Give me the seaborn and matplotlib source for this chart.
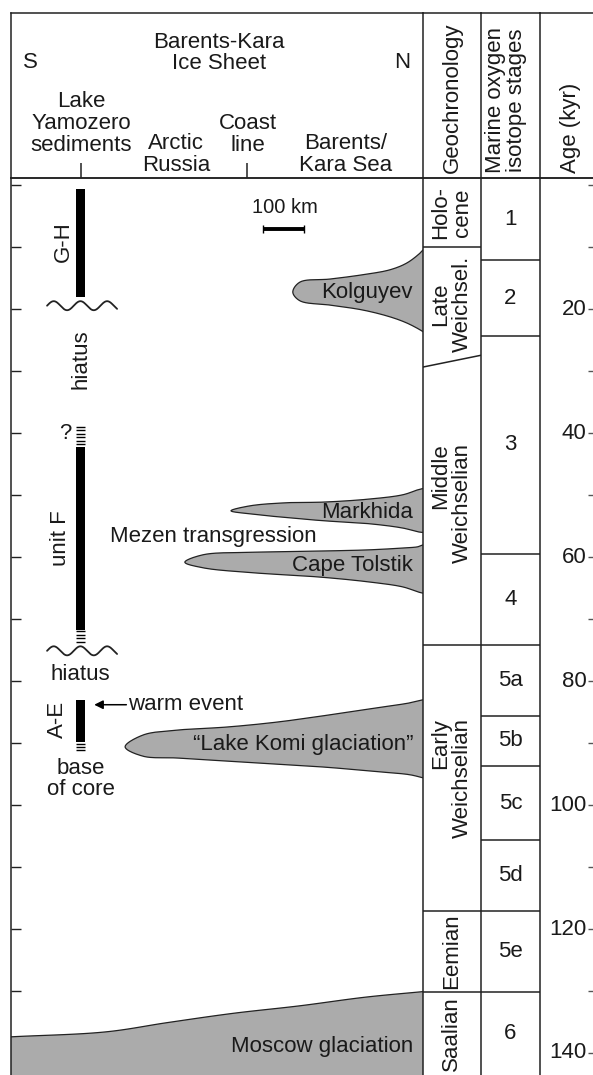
import numpy as np
import matplotlib
matplotlib.use("Agg")
import matplotlib.pyplot as plt
import seaborn as sns

# ------------------------------------------------------------------ data
# Age axis (kyr before present)
age_ticks = list(range(0, 150, 10))
age_tick_labels = [20, 40, 60, 80, 100, 120, 140]

# Marine oxygen isotope stages (boundaries in kyr, young -> old)
mis_boundaries = [12.1, 24.3, 59.4, 74.2, 85.6, 93.7, 105.7, 117.1, 130.2]
mis_names = ["1", "2", "3", "4", "5a", "5b", "5c", "5d", "5e", "6"]

# Geochronology (the Late/Middle Weichselian boundary is oblique)
geo_names = ["Holo-\ncene", "Late\nWeichsel.", "Middle\nWeichselian",
             "Early\nWeichselian", "Eemian", "Saalian"]
holocene_base = 10.0
late_middle_boundary = [29.3, 27.4]       # west side, east side of column
geo_lower_boundaries = [74.2, 117.1, 130.2]

# Ice-sheet advances along the S-N transect (km from the southern end, kyr)
kolguyev_tip = [684, 17.2]
kolguyev_km = [701, 774, 854, 920, 961, 993, 1000]
kolguyev_top = [15.6, 15.1, 14.4, 13.6, 12.5, 10.9, 10.4]
kolguyev_base = [18.6, 19.3, 20.1, 21.2, 22.2, 23.3, 23.6]

markhida_tip = [534, 52.5]
markhida_km = [580, 670, 757, 871, 952, 988, 1000]
markhida_top = [51.7, 51.2, 51.1, 50.6, 49.9, 49.1, 48.9]
markhida_base = [53.0, 53.6, 54.1, 54.6, 55.3, 55.9, 56.0]

tolstik_tip = [422, 60.8]
tolstik_km = [466, 587, 750, 871, 952, 988, 1000]
tolstik_top = [59.6, 59.2, 59.0, 58.8, 58.5, 58.3, 58.0]
tolstik_base = [61.7, 62.5, 63.2, 64.0, 64.8, 65.6, 65.8]

komi_tip = [277, 90.6]
komi_km = [320, 403, 524, 646, 767, 888, 968, 1000]
komi_top = [88.7, 87.9, 87.4, 86.6, 85.5, 84.3, 83.5, 83.0]
komi_base = [92.1, 92.4, 92.9, 93.4, 93.9, 94.6, 95.1, 95.6]

moscow_km = [0, 230, 380, 540, 700, 860, 1000]
moscow_top = [137.4, 136.6, 135.1, 133.6, 132.4, 131.0, 130.1]

lobe_names = ["Kolguyev", "Markhida", "Cape Tolstik", "\u201cLake Komi glaciation\u201d"]
lobe_label_ages = [17.35, 52.7, 61.3, 90.3]

# Lake Yamozero core
lake_km = 169
coast_km = 573
core_units = ["G-H", "unit F", "A-E"]
core_top = [0.6, 42.2, 83.0]
core_base = [18.0, 71.7, 89.8]
uncertain_top = [38.7, 71.7, 89.8]
uncertain_base = [42.2, 74.0, 91.4]
hiatus_ages = [19.4, 75.1]

scale_bar_km = [612, 712]
scale_bar_age = 7.0

# ------------------------------------------------------------------ style
sns.set_theme(style="white")
plt.rcParams["font.family"] = ["Liberation Sans", "DejaVu Sans"]
FS = 16
TXT = "#1a1a1a"
LINE = "#222222"
GRAY = "#ababab"
SPLW = 1.1

W, H = 593, 1075
fig = plt.figure(figsize=(W / 100, H / 100), dpi=100)
fig.patch.set_facecolor("white")


def px_axes(x0, y0, x1, y1):
    return fig.add_axes([x0 / W, 1 - y1 / H, (x1 - x0) / W, (y1 - y0) / H])


def style_spines(ax, show):
    for side, sp in ax.spines.items():
        sp.set_visible(side in show)
        sp.set_linewidth(SPLW)
        sp.set_color(LINE)
    ax.set_xticks([])
    ax.set_yticks([])
    ax.set_facecolor("none")


AGE_TOP, AGE_BOT = -1.21, 143.56
HEAD_TOP, BODY_TOP = 13, 178
cols = [(11, 423), (423, 481), (481, 540), (540, 596)]

heads, bodies = [], []
for x0, x1 in cols:
    h = px_axes(x0, HEAD_TOP, x1, BODY_TOP)
    style_spines(h, ("left", "top", "bottom"))
    h.set_ylim(0, 1)
    heads.append(h)
    b = px_axes(x0, BODY_TOP, x1, H)
    style_spines(b, ("left", "top"))
    b.set_ylim(AGE_BOT, AGE_TOP)
    bodies.append(b)

ax, ax_geo, ax_mis, ax_age = bodies
hd_main, hd_geo, hd_mis, hd_age = heads
ax.set_xlim(0, 1000)
hd_main.set_xlim(0, 1000)
for b in (ax_geo, ax_mis, ax_age):
    b.set_xlim(0, 1)

# left ticks of the transect panel
ax.set_yticks(age_ticks)
ax.tick_params(axis="y", left=True, direction="in", length=7.5, width=1.0,
               color=LINE, labelleft=False)

# ------------------------------------------------------------------ helpers
def catmull_rom(P, n=20):
    P = np.asarray(P, float)
    P = np.vstack([2 * P[0] - P[1], P, 2 * P[-1] - P[-2]])
    out = []
    for i in range(1, len(P) - 2):
        p0, p1, p2, p3 = P[i - 1], P[i], P[i + 1], P[i + 2]
        t0 = 0.0
        t1 = t0 + max(np.linalg.norm(p1 - p0), 1e-6) ** 0.5
        t2 = t1 + max(np.linalg.norm(p2 - p1), 1e-6) ** 0.5
        t3 = t2 + max(np.linalg.norm(p3 - p2), 1e-6) ** 0.5
        t = np.linspace(t1, t2, n, endpoint=False)[:, None]
        A1 = (t1 - t) / (t1 - t0) * p0 + (t - t0) / (t1 - t0) * p1
        A2 = (t2 - t) / (t2 - t1) * p1 + (t - t1) / (t2 - t1) * p2
        A3 = (t3 - t) / (t3 - t2) * p2 + (t - t2) / (t3 - t2) * p3
        B1 = (t2 - t) / (t2 - t0) * A1 + (t - t0) / (t2 - t0) * A2
        B2 = (t3 - t) / (t3 - t1) * A2 + (t - t1) / (t3 - t1) * A3
        out.append((t2 - t) / (t2 - t1) * B1 + (t - t1) / (t2 - t1) * B2)
    out.append(P[-2][None])
    return np.vstack(out)


def smooth(axis, xs, ys):
    pts = axis.transData.transform(np.column_stack([xs, ys]))
    return axis.transData.inverted().transform(catmull_rom(pts))


def outline(axis, xy, lw=0.9):
    sns.lineplot(x=xy[:, 0], y=xy[:, 1], sort=False, estimator=None,
                 color=LINE, lw=lw, ax=axis, zorder=3)


# ------------------------------------------------------------------ ice lobes
lobes = [
    (kolguyev_tip, kolguyev_km, kolguyev_top, kolguyev_base),
    (markhida_tip, markhida_km, markhida_top, markhida_base),
    (tolstik_tip, tolstik_km, tolstik_top, tolstik_base),
    (komi_tip, komi_km, komi_top, komi_base),
]
for (tip, km, top, base), name, lab_age in zip(lobes, lobe_names, lobe_label_ages):
    xs = km[::-1] + [tip[0]] + km
    ys = top[::-1] + [tip[1]] + base
    xy = smooth(ax, xs, ys)
    ax.fill(xy[:, 0], xy[:, 1], color=GRAY, lw=0, zorder=2)
    outline(ax, xy)
    ax.text(976, lab_age, name, ha="right", va="center", fontsize=FS,
            color=TXT, zorder=4)

# Moscow glaciation (Saalian)
mxy = smooth(ax, moscow_km, moscow_top)
poly = np.vstack([mxy, [[1000, 160], [0, 160]]])
ax.fill(poly[:, 0], poly[:, 1], color=GRAY, lw=0, zorder=2)
outline(ax, mxy)
ax.text(976, 139.0, "Moscow glaciation", ha="right", va="center",
        fontsize=FS, color=TXT, zorder=4)

ax.text(240, 56.6, "Mezen transgression", ha="left", va="center",
        fontsize=FS, color=TXT)

# scale bar
ax.plot(scale_bar_km, [scale_bar_age] * 2, color="black", lw=2.8,
        solid_capstyle="butt")
ax.vlines(scale_bar_km, scale_bar_age - 0.65, scale_bar_age + 0.65,
          color="black", lw=1.0)
ax.text(np.mean(scale_bar_km) + 2, 3.5, "100 km", ha="center",
        va="center", fontsize=14.5, color=TXT)

# ------------------------------------------------------------------ Lake Yamozero core
bar_w = 22
ax.bar(lake_km, np.subtract(core_base, core_top), bottom=core_top,
       width=bar_w, color="black", lw=0, zorder=3)
for a0, a1 in zip(uncertain_top, uncertain_base):
    ys = np.arange(a0 + 0.28, a1, 0.55)
    ax.hlines(ys, lake_km - bar_w / 2, lake_km + bar_w / 2, color="black",
              lw=1.0, zorder=3)
for a in hiatus_ages:
    wx = np.linspace(lake_km - 81.5, lake_km + 88.5, 200)
    wy = a - 0.73 * np.sin(2 * np.pi * (wx - (lake_km - 81.5)) / 64.8)
    outline(ax, np.column_stack([wx, wy]), lw=1.3)

unit_label_x = [126, 121, 113]
unit_label_age = [9.0, 56.9, 86.1]
for name, ux, ua in zip(core_units, unit_label_x, unit_label_age):
    ax.text(ux, ua, name, rotation=90, ha="center", va="center",
            fontsize=FS, color=TXT)
ax.text(lake_km, 28.0, "hiatus", rotation=90, ha="center", va="center",
        fontsize=FS, color=TXT)
ax.text(lake_km, 79.0, "hiatus", ha="center", va="center", fontsize=FS,
        color=TXT)
ax.text(131, 40.0, "?", ha="center", va="center", fontsize=FS, color=TXT)
ax.text(lake_km, 95.8, "base\nof core", ha="center", va="center",
        fontsize=FS, color=TXT, linespacing=1.0)
ax.annotate("", xy=(202, 83.8), xytext=(280, 83.8),
            arrowprops=dict(arrowstyle="-|>", color="black", lw=1.1,
                            mutation_scale=13, shrinkA=0, shrinkB=0))
ax.text(284, 83.8, "warm event", ha="left", va="center", fontsize=FS,
        color=TXT)

# ------------------------------------------------------------------ geochronology column
ax_geo.hlines([holocene_base], 0, 1, color=LINE, lw=SPLW)
ax_geo.plot([0, 1], late_middle_boundary, color=LINE, lw=SPLW)
ax_geo.hlines(geo_lower_boundaries, 0, 1, color=LINE, lw=SPLW)
geo_edges = [AGE_TOP, holocene_base, np.mean(late_middle_boundary)] + \
    geo_lower_boundaries + [AGE_BOT]
for i, name in enumerate(geo_names):
    mid = 0.5 * (geo_edges[i] + geo_edges[i + 1])
    ma = "right" if "Weichselian" in name else "center"
    ax_geo.text(0.49, mid, name, rotation=90, ha="center", va="center",
                fontsize=FS, color=TXT, multialignment=ma, linespacing=1.05,
                transform=ax_geo.get_yaxis_transform())

# ------------------------------------------------------------------ MIS column
ax_mis.hlines(mis_boundaries, 0, 1, color=LINE, lw=SPLW)
mis_edges = [AGE_TOP] + mis_boundaries + [AGE_BOT]
for i, name in enumerate(mis_names):
    mid = 0.5 * (mis_edges[i] + mis_edges[i + 1])
    ax_mis.text(0.5, mid, name, ha="center", va="center", fontsize=FS,
                color=TXT, transform=ax_mis.get_yaxis_transform())

# ------------------------------------------------------------------ age column
ax_age.yaxis.tick_right()
ax_age.set_yticks(age_ticks)
ax_age.tick_params(axis="y", right=True, left=False, direction="in",
                   length=6, width=1.0, color="#555555", labelright=False)
for a in age_tick_labels:
    ax_age.text(0.83, a, str(a), ha="right", va="center", fontsize=FS,
                color=TXT, transform=ax_age.get_yaxis_transform())

# ------------------------------------------------------------------ header
hd_main.text(505, 0.758, "Barents-Kara\nIce Sheet", ha="center", va="center",
             fontsize=FS, color=TXT, linespacing=1.0)
hd_main.text(48, 0.697, "S", ha="center", va="center", fontsize=FS, color=TXT)
hd_main.text(949, 0.697, "N", ha="center", va="center", fontsize=FS, color=TXT)
hd_main.text(171, 0.133, "Lake\nYamozero\nsediments", ha="center",
             va="bottom", fontsize=FS, color=TXT, linespacing=1.05)
hd_main.text(400, 0.012, "Arctic\nRussia", ha="center", va="bottom",
             fontsize=FS, color=TXT, linespacing=1.05)
hd_main.text(574, 0.133, "Coast\nline", ha="center", va="bottom",
             fontsize=FS, color=TXT, linespacing=1.05)
hd_main.text(813, 0.012, "Barents/\nKara Sea", ha="center", va="bottom",
             fontsize=FS, color=TXT, linespacing=1.05)
hd_main.vlines([lake_km, coast_km], 0, 0.09, color=LINE, lw=1.1)

hd_geo.text(0.5, 0.03, "Geochronology", rotation=90, ha="center",
            va="bottom", fontsize=FS, color=TXT, transform=hd_geo.transAxes)
hd_mis.text(0.42, 0.03, "Marine oxygen\nisotope stages", rotation=90,
            ha="center", va="bottom", fontsize=FS, color=TXT,
            linespacing=1.0, transform=hd_mis.transAxes)
hd_age.text(0.55, 0.03, "Age (kyr)", rotation=90, ha="center", va="bottom",
            fontsize=FS, color=TXT, transform=hd_age.transAxes)

# keep limits fixed after seaborn drawing
ax.set_xlim(0, 1000)
ax.set_ylim(AGE_BOT, AGE_TOP)
ax.set_xlabel("")
ax.set_ylabel("")

fig.savefig("out.png", dpi=100, facecolor="white")
